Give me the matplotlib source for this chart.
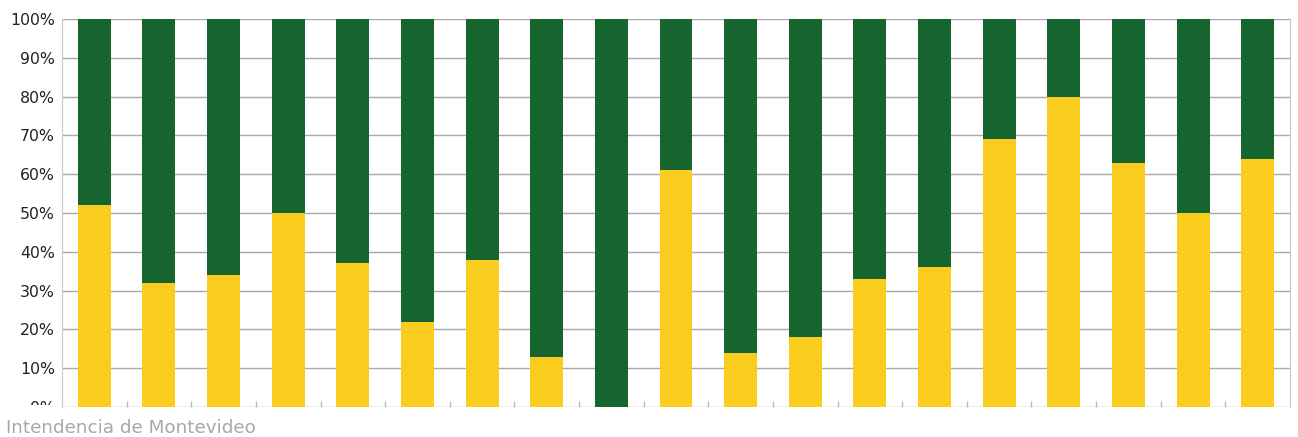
import numpy as np
import matplotlib.pyplot as plt
from matplotlib.patches import Rectangle
from matplotlib.ticker import FuncFormatter

# datos: porcentaje amarillo por barra (el resto es verde)
categorias = list(range(1, 20))
amarillo = [52, 32, 34, 50, 37, 22, 38, 13, 0, 61, 14, 18, 33, 36, 69, 80, 63, 50, 64]
verde = [100 - v for v in amarillo]

col_amarillo = "#F9CC1D"
col_verde = "#16652F"

plt.rcParams['font.family'] = ['DejaVu Sans']

fig = plt.figure(figsize=(12.98, 4.37), dpi=100)
ax = fig.add_axes([62/1298, 1 - 407/437, 1228/1298, 388/437])

x = np.arange(len(categorias))
ax.bar(x, amarillo, width=0.51, color=col_amarillo, zorder=3)
ax.bar(x, verde, width=0.51, bottom=amarillo, color=col_verde, zorder=3)

ax.set_xlim(-0.5, len(categorias) - 0.5)
ax.set_ylim(0, 100)
ax.set_yticks(np.arange(0, 101, 10))
ax.yaxis.set_major_formatter(FuncFormatter(lambda v, p: f"{int(v)}%"))
ax.tick_params(axis='y', length=0, pad=5, labelsize=11.3, labelcolor="#222222")

# marcas pequeñas entre categorías
ax.set_xticks(x[:-1] + 0.5)
ax.set_xticklabels([])
ax.tick_params(axis='x', direction='in', length=4, color="#bbbbbb", width=1)

ax.grid(axis='y', color="#a8a8a8", linewidth=1, zorder=0)
for s in ["left", "right"]:
    ax.spines[s].set_color("#c8c8c8")
ax.spines["top"].set_visible(False)
ax.spines["bottom"].set_visible(False)

# la etiqueta 0% aparece recortada en el original
fig.patches.append(Rectangle((0, 0), 60/1298, 1 - 405/437, transform=fig.transFigure,
                             facecolor="white", edgecolor="none", zorder=10))

fig.text(6/1298, 1 - 428/437, "Intendencia de Montevideo", fontsize=13.2,
         color="#a8a8a8", va="center", ha="left", zorder=11)

fig.savefig("out.png", dpi=100)
